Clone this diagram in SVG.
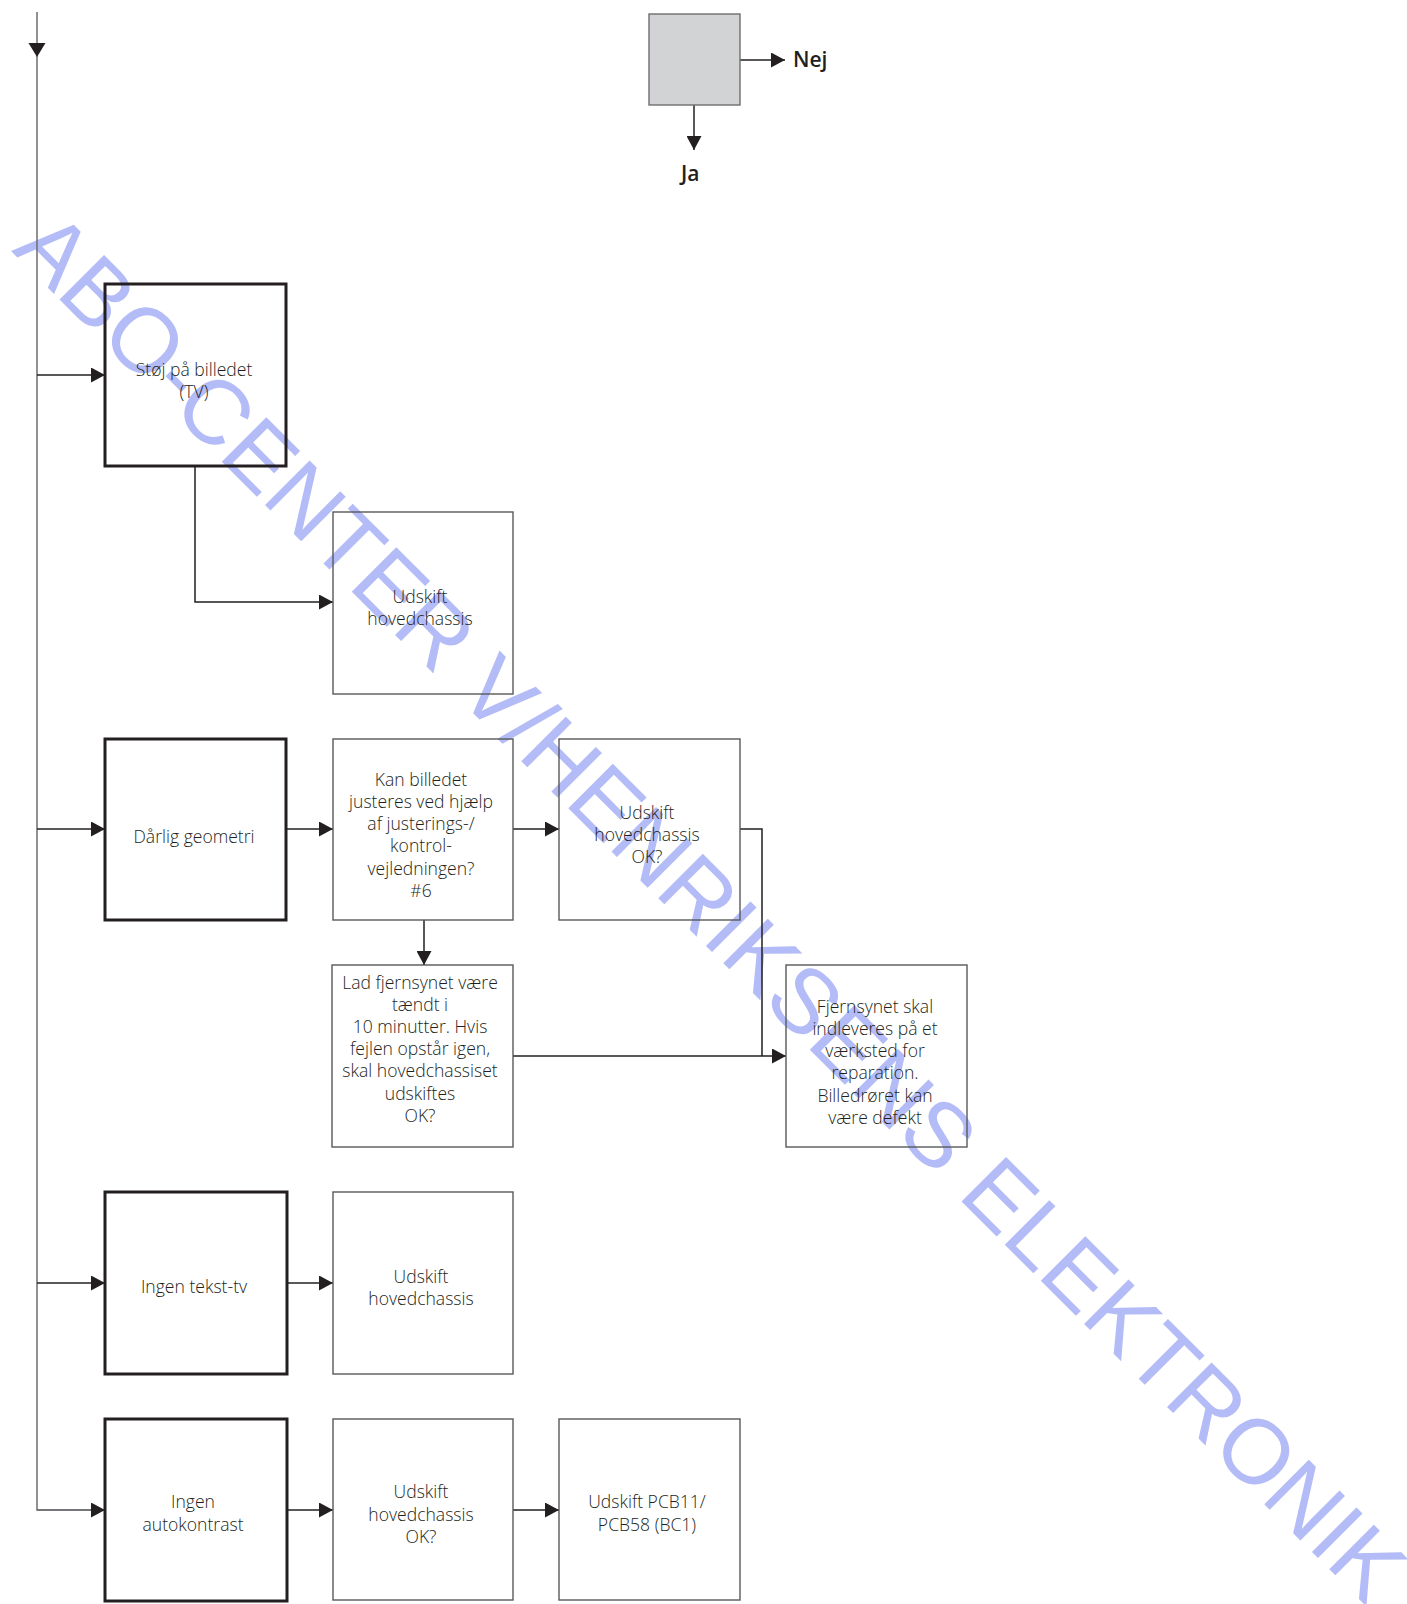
<svg xmlns="http://www.w3.org/2000/svg" width="1407" height="1604" viewBox="0 0 1407 1604">
  <style>
    .wm { font-family: "Liberation Sans", Arial, sans-serif; font-size: 91.5px; fill: #b4bcf8; }
    .box { fill: none; stroke: #58595b; stroke-width: 1.4; }
    .key { fill: none; stroke: #231f20; stroke-width: 3; }
    .dec { fill: #d1d3d4; stroke: #6d6e71; stroke-width: 1.4; }
    .lbl { font-family: "Open Sans", "Noto Sans", sans-serif; font-size: 18.5px; font-weight: 300; fill: #231f20; text-anchor: middle; }
    .yn { font-family: "Open Sans", "Noto Sans", sans-serif; font-size: 21px; font-weight: 600; fill: #231f20; }
    .wire { fill: none; stroke: #231f20; stroke-width: 1.5; }
    .trunk { fill: none; stroke: #6d6e71; stroke-width: 1.5; }
    .arr { marker-end: url(#head); }
  </style>
  <defs>
    <marker id="head" markerUnits="userSpaceOnUse" markerWidth="14" markerHeight="15" refX="14" refY="7.5" orient="auto">
      <path d="M0,0 L14,7.5 L0,15 Z" fill="#231f20"/>
    </marker>
  </defs>

  <rect width="1407" height="1604" fill="#ffffff"/>

  <!-- watermark -->
  <text class="wm" transform="translate(11 251) rotate(45)" x="0" y="0" textLength="1918" lengthAdjust="spacing">ABO-CENTER V/HENRIKSENS ELEKTRONIK</text>

  <!-- connectors -->
  <g id="connectors">
    <path class="trunk" d="M37,12 V1510 H104"/>
    <polygon points="28.5,43 45.5,43 37,57" fill="#231f20"/>
    <path class="trunk arr" d="M37,1510 H105"/>
    <path class="wire arr" d="M37,375 H105"/>
    <path class="wire arr" d="M37,829 H105"/>
    <path class="wire arr" d="M37,1283 H105"/>
    <path class="wire arr" d="M195,467 V602 H333"/>
    <path class="wire arr" d="M286,829 H333"/>
    <path class="wire arr" d="M513,829 H559"/>
    <path class="wire" d="M740,829 H762 V1056"/>
    <path class="wire arr" d="M513,1056 H786"/>
    <path class="wire arr" d="M424,920 V965"/>
    <path class="wire arr" d="M287,1283 H333"/>
    <path class="wire arr" d="M287,1510 H333"/>
    <path class="wire arr" d="M513,1510 H559"/>
    <path class="wire arr" d="M740,60 H785"/>
    <path class="wire arr" d="M694,105 V150"/>
  </g>

  <!-- legend: decision -->
  <g id="legend">
    <rect class="dec" x="649" y="14" width="91" height="91"/>
    <text class="yn" x="793" y="67">Nej</text>
    <text class="yn" x="681" y="181">Ja</text>
  </g>

  <g id="stoej">
    <rect class="key" x="105" y="284" width="181" height="182"/>
    <g transform="translate(194 0) scale(0.95 1)">
      <text class="lbl" x="0" y="376">Støj på billedet</text>
      <text class="lbl" x="0" y="398">(TV)</text>
    </g>
  </g>

  <g id="udskift-1">
    <rect class="box" x="333" y="512" width="180" height="182"/>
    <g transform="translate(420 0) scale(0.95 1)">
      <text class="lbl" x="0" y="603">Udskift</text>
      <text class="lbl" x="0" y="625">hovedchassis</text>
    </g>
  </g>

  <g id="daarlig">
    <rect class="key" x="105" y="739" width="181" height="181"/>
    <g transform="translate(194 0) scale(0.95 1)">
      <text class="lbl" x="0" y="843">Dårlig geometri</text>
    </g>
  </g>

  <g id="kan-justeres">
    <rect class="box" x="333" y="739" width="180" height="181"/>
    <g transform="translate(421 0) scale(0.95 1)">
      <text class="lbl" x="0" y="786">Kan billedet</text>
      <text class="lbl" x="0" y="808">justeres ved hjælp</text>
      <text class="lbl" x="0" y="830">af justerings-/</text>
      <text class="lbl" x="0" y="852">kontrol-</text>
      <text class="lbl" x="0" y="875">vejledningen?</text>
      <text class="lbl" x="0" y="897">#6</text>
    </g>
  </g>

  <g id="udskift-2">
    <rect class="box" x="559" y="739" width="181" height="181"/>
    <g transform="translate(647 0) scale(0.95 1)">
      <text class="lbl" x="0" y="819">Udskift</text>
      <text class="lbl" x="0" y="841">hovedchassis</text>
      <text class="lbl" x="0" y="863">OK?</text>
    </g>
  </g>

  <g id="lad-taendt">
    <rect class="box" x="332" y="965" width="181" height="182"/>
    <g transform="translate(420 0) scale(0.95 1)">
      <text class="lbl" x="0" y="989">Lad fjernsynet være</text>
      <text class="lbl" x="0" y="1011">tændt i</text>
      <text class="lbl" x="0" y="1033">10 minutter. Hvis</text>
      <text class="lbl" x="0" y="1055">fejlen opstår igen,</text>
      <text class="lbl" x="0" y="1077">skal hovedchassiset</text>
      <text class="lbl" x="0" y="1100">udskiftes</text>
      <text class="lbl" x="0" y="1122">OK?</text>
    </g>
  </g>

  <g id="vaerksted">
    <rect class="box" x="786" y="965" width="181" height="182"/>
    <g transform="translate(875 0) scale(0.95 1)">
      <text class="lbl" x="0" y="1013">Fjernsynet skal</text>
      <text class="lbl" x="0" y="1035">indleveres på et</text>
      <text class="lbl" x="0" y="1057">værksted for</text>
      <text class="lbl" x="0" y="1079">reparation.</text>
      <text class="lbl" x="0" y="1102">Billedrøret kan</text>
      <text class="lbl" x="0" y="1124">være defekt</text>
    </g>
  </g>

  <g id="tekst-tv">
    <rect class="key" x="105" y="1192" width="182" height="182"/>
    <g transform="translate(194 0) scale(0.95 1)">
      <text class="lbl" x="0" y="1293">Ingen tekst-tv</text>
    </g>
  </g>

  <g id="udskift-3">
    <rect class="box" x="333" y="1192" width="180" height="182"/>
    <g transform="translate(421 0) scale(0.95 1)">
      <text class="lbl" x="0" y="1283">Udskift</text>
      <text class="lbl" x="0" y="1305">hovedchassis</text>
    </g>
  </g>

  <g id="autokontrast">
    <rect class="key" x="105" y="1419" width="182" height="182"/>
    <g transform="translate(193 0) scale(0.95 1)">
      <text class="lbl" x="0" y="1508">Ingen</text>
      <text class="lbl" x="0" y="1531">autokontrast</text>
    </g>
  </g>

  <g id="udskift-4">
    <rect class="box" x="333" y="1419" width="180" height="181"/>
    <g transform="translate(421 0) scale(0.95 1)">
      <text class="lbl" x="0" y="1498">Udskift</text>
      <text class="lbl" x="0" y="1521">hovedchassis</text>
      <text class="lbl" x="0" y="1543">OK?</text>
    </g>
  </g>

  <g id="pcb">
    <rect class="box" x="559" y="1419" width="181" height="181"/>
    <g transform="translate(647 0) scale(0.95 1)">
      <text class="lbl" x="0" y="1508">Udskift PCB11/</text>
      <text class="lbl" x="0" y="1531">PCB58 (BC1)</text>
    </g>
  </g>
</svg>
